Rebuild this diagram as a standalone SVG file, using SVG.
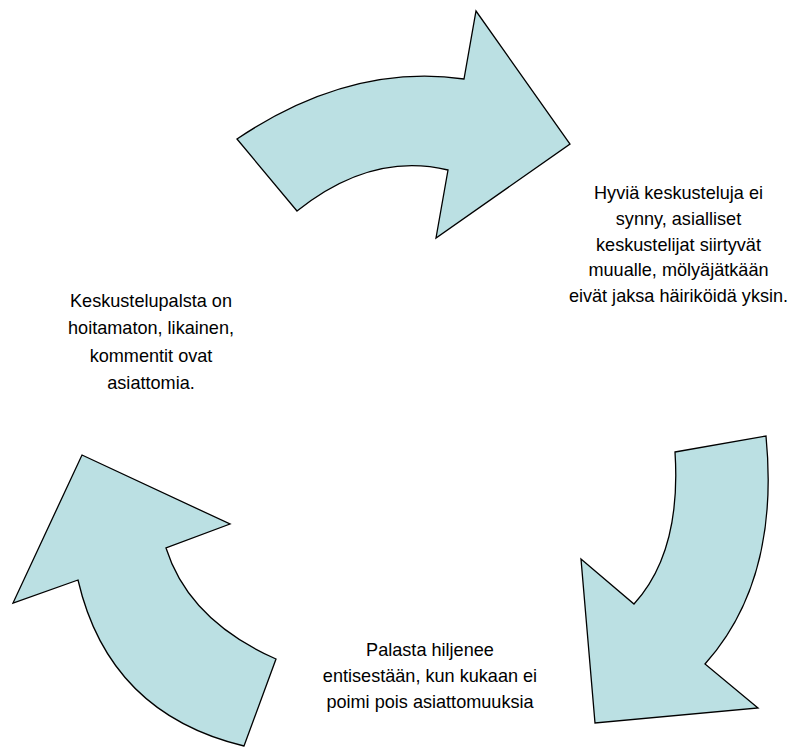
<svg xmlns="http://www.w3.org/2000/svg" width="795" height="747" viewBox="0 0 795 747">
<style>
.arrow{fill:#BBE0E3;stroke:#000;stroke-width:1.3;stroke-linejoin:miter}
.lbl{font-family:"Liberation Sans",Arial,sans-serif;font-size:18.1px;fill:#000;text-anchor:middle}
</style>
<rect width="795" height="747" fill="#fff"/>
<g id="connectors">
<path id="arrow-top" class="arrow" d="M237,139 L297,211 Q371.5,151.5 448,170 L436,238 L570,144 L476,11 L464,79 Q350,63 237,139 Z"/>
<path id="arrow-right" class="arrow" d="M675,452 L766,436 Q780,580 705,664 L758,708 L595,723 L581,559 L634,604 Q681.5,552 675,452 Z"/>
<path id="arrow-left" class="arrow" d="M82,455 L230,524 L166,548 Q189,620.5 276,659 L244,746 Q109,713.5 78,580 L13,603 Z"/>
</g>
<g id="node-right">
<text class="lbl" x="678.5" y="199.3">Hyviä keskusteluja ei</text>
<text class="lbl" x="678.5" y="225">synny, asialliset</text>
<text class="lbl" x="678.5" y="250.7">keskustelijat siirtyvät</text>
<text class="lbl" x="678.5" y="276.4">muualle, mölyäjätkään</text>
<text class="lbl" x="678.5" y="302">eivät jaksa häiriköidä yksin.</text>
</g>
<g id="node-left">
<text class="lbl" x="151" y="306.5">Keskustelupalsta on</text>
<text class="lbl" x="151" y="334">hoitamaton, likainen,</text>
<text class="lbl" x="151" y="361.5">kommentit ovat</text>
<text class="lbl" x="151" y="389">asiattomia.</text>
</g>
<g id="node-bottom">
<text class="lbl" x="430" y="656">Palasta hiljenee</text>
<text class="lbl" x="430" y="682">entisestään, kun kukaan ei</text>
<text class="lbl" x="430" y="708">poimi pois asiattomuuksia</text>
</g>
</svg>
